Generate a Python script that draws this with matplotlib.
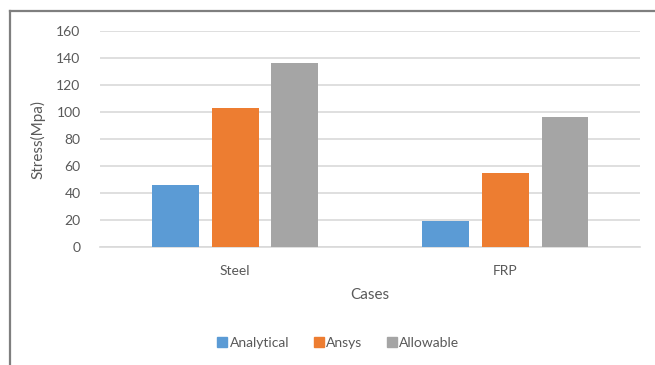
import matplotlib
matplotlib.use("Agg")
import matplotlib.pyplot as plt
import numpy as np
from matplotlib.lines import Line2D

cases = ["Steel", "FRP"]
series_names = ["Analytical", "Ansys", "Allowable"]
analytical = [46, 19]
ansys = [103, 55]
allowable = [136, 96]
y_ticks = [0, 20, 40, 60, 80, 100, 120, 140, 160]

colors = ["#5B9BD5", "#ED7D31", "#A5A5A5"]
text_color = "#595959"
plt.rcParams["font.family"] = ["Lato", "DejaVu Sans"]

fig = plt.figure(figsize=(6.55, 3.65), dpi=100)
ax = fig.add_axes([0.1527, 0.3233, 0.8245, 0.5917])

x = np.arange(len(cases))
offsets = [-0.222, 0.0, 0.222]
width = 0.174
for vals, off, col, name in zip([analytical, ansys, allowable], offsets, colors, series_names):
    ax.bar(x + off, vals, width=width, color=col, label=name, zorder=3)

ax.set_xlim(-0.5, 1.5)
ax.set_ylim(0, 160)
ax.set_yticks(y_ticks)
ax.set_yticklabels([str(t) for t in y_ticks])
ax.set_xticks(x)
ax.set_xticklabels(cases)
ax.yaxis.grid(True, color="#D9D9D9", linewidth=1.2, zorder=0)
ax.set_axisbelow(True)
for side in ["top", "right", "left"]:
    ax.spines[side].set_visible(False)
ax.spines["bottom"].set_color("#D9D9D9")
ax.spines["bottom"].set_linewidth(1.2)
ax.tick_params(axis="both", length=0, colors=text_color, labelsize=10)
ax.tick_params(axis="y", pad=14)
ax.tick_params(axis="x", pad=13)
ax.set_ylabel("Stress(Mpa)", color=text_color, fontsize=11, labelpad=8)
ax.set_xlabel("Cases", color=text_color, fontsize=11, labelpad=8)

handles = [Line2D([], [], marker="s", linestyle="none", markersize=7.5,
                  markerfacecolor=c, markeredgecolor=c) for c in colors]
fig.legend(handles, series_names, loc="center", bbox_to_anchor=(0.515, 0.06),
           ncol=3, frameon=False, fontsize=10, labelcolor=text_color,
           handletextpad=0.05, columnspacing=1.6, handlelength=1.0)

# outer chart frame
fig.add_artist(Line2D([10 / 655, 10 / 655], [0, 1 - 11 / 365], transform=fig.transFigure,
                      color="#7F7F7F", linewidth=1.6))
fig.add_artist(Line2D([10 / 655, 1], [1 - 11 / 365, 1 - 11 / 365], transform=fig.transFigure,
                      color="#7F7F7F", linewidth=1.6))

fig.savefig("out.png", dpi=100, facecolor="white")
